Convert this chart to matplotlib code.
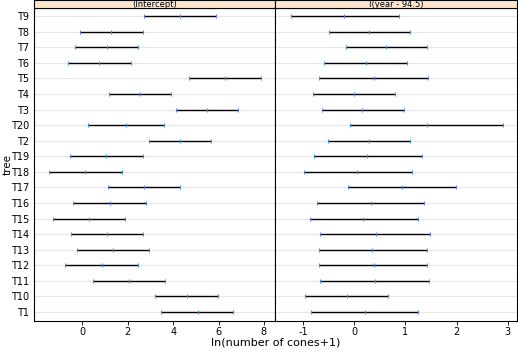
import numpy as np
import matplotlib.pyplot as plt

trees = ["T1", "T10", "T11", "T12", "T13", "T14", "T15", "T16", "T17", "T18",
         "T19", "T2", "T20", "T3", "T4", "T5", "T6", "T7", "T8", "T9"]

# (Intercept): lower, estimate, upper
int_lo = [3.47, 3.20, 0.47, -0.78, -0.23, -0.50, -1.31, -0.41, 1.12, -1.47,
          -0.56, 2.92, 0.23, 4.13, 1.18, 4.70, -0.63, -0.34, -0.12, 2.70]
int_est = [5.10, 4.59, 2.04, 0.85, 1.35, 1.07, 0.28, 1.20, 2.70, 0.10,
           1.03, 4.30, 1.91, 5.49, 2.52, 6.29, 0.73, 1.07, 1.25, 4.30]
int_hi = [6.64, 5.96, 3.64, 2.45, 2.94, 2.67, 1.88, 2.81, 4.30, 1.75,
          2.67, 5.67, 3.61, 6.86, 3.91, 7.85, 2.13, 2.45, 2.67, 5.89]

# I(year - 94.5): lower, estimate, upper
yr_lo = [-0.85, -0.95, -0.66, -0.69, -0.69, -0.66, -0.86, -0.73, -0.11, -0.98,
         -0.79, -0.51, -0.09, -0.63, -0.81, -0.68, -0.58, -0.16, -0.49, -1.23]
yr_est = [0.21, -0.14, 0.40, 0.38, 0.35, 0.42, 0.18, 0.32, 0.94, 0.06,
          0.26, 0.29, 1.42, 0.16, -0.01, 0.38, 0.23, 0.63, 0.30, -0.19]
yr_hi = [1.25, 0.66, 1.46, 1.43, 1.42, 1.48, 1.24, 1.37, 1.99, 1.13,
         1.33, 1.09, 2.90, 0.97, 0.79, 1.44, 1.03, 1.43, 1.09, 0.87]

panels = [("(Intercept)", int_lo, int_est, int_hi, (-2.16, 8.5), [0, 2, 4, 6, 8]),
          ("I(year - 94.5)", yr_lo, yr_est, yr_hi, (-1.54, 3.18), [-1, 0, 1, 2, 3])]

fig = plt.figure(figsize=(5.18, 3.52), dpi=100)
y = np.arange(len(trees))
left, right, bottom, top = 33.5 / 518, 517 / 518, 1 - 321 / 352, 1 - 8 / 352
w = (right - left) / 2

for i, (name, lo, est, hi, xlim, ticks) in enumerate(panels):
    ax = fig.add_axes([left + i * w, bottom, w, top - bottom])
    for yy in y:
        ax.axhline(yy, color="#e6e6e6", lw=0.8, zorder=0)
    ax.hlines(y, lo, hi, color="black", lw=1.0, zorder=2)
    for arr in (lo, est, hi):
        ax.plot(arr, y, ls="none", marker="|", ms=3, mew=0.8, color="#4d8fd6", zorder=3)
    ax.set_xlim(*xlim)
    ax.set_ylim(-0.58, 19.52)
    ax.set_xticks(ticks)
    ax.set_xticklabels([str(t) for t in ticks], fontsize=7)
    ax.tick_params(axis="x", length=3, width=0.6, pad=1.5)
    if i == 0:
        ax.set_yticks(y)
        ax.set_yticklabels(trees, fontsize=7)
        ax.tick_params(axis="y", length=0, pad=3)
        ax.set_ylabel("tree", fontsize=7.5)
        ax.yaxis.set_label_coords(-0.088, 0.5)
    else:
        ax.set_yticks([])
    for s in ax.spines.values():
        s.set_linewidth(0.8)

    sax = fig.add_axes([left + i * w, top, w, 1 - top - 0.001])
    sax.set_facecolor("#ffe5cc")
    sax.set_xticks([])
    sax.set_yticks([])
    for s in sax.spines.values():
        s.set_linewidth(0.8)
    sax.text(0.5, 0.45, name, fontsize=6, ha="center", va="center", transform=sax.transAxes)

fig.text((left + right) / 2, 0.012, "ln(number of cones+1)", fontsize=8, ha="center", va="bottom")
fig.savefig("out.png", dpi=100)
